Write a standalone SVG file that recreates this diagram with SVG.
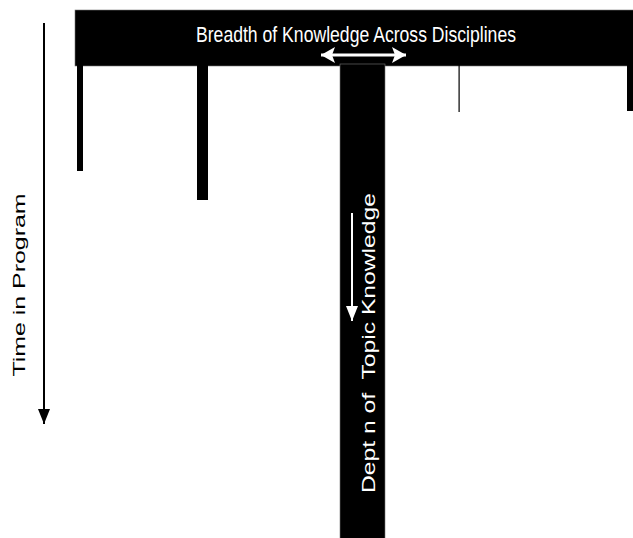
<svg xmlns="http://www.w3.org/2000/svg" width="633" height="538" viewBox="0 0 633 538">
<style>
.bar{fill:#000;stroke:#777;stroke-width:0.6}
.lbl{font-family:"Liberation Sans",Arial,sans-serif;fill:#fff}
.dark{font-family:"Liberation Sans",Arial,sans-serif;fill:#000}
</style>
<defs>
<marker id="ahB" markerWidth="15" markerHeight="12" refX="15" refY="6" orient="auto-start-reverse" markerUnits="userSpaceOnUse" viewBox="0 0 15 12">
<path d="M0,0 L15,6 L0,12 Z" fill="#000"/>
</marker>
<marker id="ahW" markerWidth="15" markerHeight="12" refX="15" refY="6" orient="auto-start-reverse" markerUnits="userSpaceOnUse" viewBox="0 0 15 12">
<path d="M0,0 L15,6 L0,12 Z" fill="#fff"/>
</marker>
<marker id="ahW2" markerWidth="14" markerHeight="16" refX="14" refY="8" orient="auto-start-reverse" markerUnits="userSpaceOnUse" viewBox="0 0 14 16">
<path d="M0,0 L14,8 L0,16 L3,8 Z" fill="#fff"/>
</marker>
</defs>
<rect width="633" height="538" fill="#fff"/>
<g id="breadth-bar">
<rect class="bar" x="75" y="10" width="560" height="56"/>
<rect x="77" y="64" width="6" height="107" fill="#000"/>
<rect x="197" y="64" width="11" height="136" fill="#000"/>
<rect x="458.5" y="64" width="1.2" height="48" fill="#000"/>
<rect x="627" y="64" width="8" height="47" fill="#000"/>
<text class="lbl" x="356" y="42" font-size="22" text-anchor="middle" textLength="320" lengthAdjust="spacingAndGlyphs">Breadth of Knowledge Across Disciplines</text>
</g>
<g id="depth-stem">
<rect class="bar" x="340" y="64" width="45" height="476"/>
<text class="lbl" transform="translate(375,343) rotate(-90)" x="0" y="0" font-size="19" text-anchor="middle" textLength="300" lengthAdjust="spacingAndGlyphs" style="white-space:pre">Dept n of  Topic Knowledge</text>
</g>
<g id="time-label">
<text class="dark" transform="translate(25,285) rotate(-90)" x="0" y="0" font-size="16" text-anchor="middle" textLength="183" lengthAdjust="spacingAndGlyphs">Time in Program</text>
</g>
<g id="connectors">
<line x1="44" y1="23" x2="44" y2="424" stroke="#000" stroke-width="2" marker-end="url(#ahB)"/>
<line x1="352" y1="213" x2="352" y2="321" stroke="#fff" stroke-width="2" marker-end="url(#ahW)"/>
<line x1="321" y1="55" x2="406" y2="55" stroke="#fff" stroke-width="3" marker-start="url(#ahW2)" marker-end="url(#ahW2)"/>
</g>
</svg>
